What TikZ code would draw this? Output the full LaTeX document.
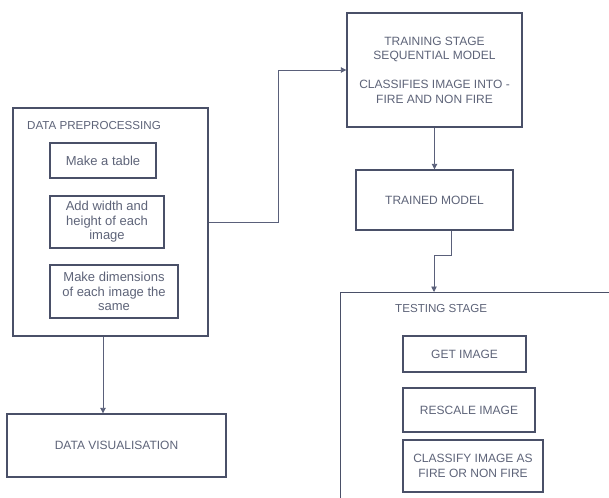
\documentclass[tikz,border=0pt]{standalone}
\usepackage{fontspec}
\setmainfont{Liberation Sans}
\usetikzlibrary{arrows.meta}
\definecolor{boxc}{HTML}{4A5068}
\definecolor{linec}{HTML}{5A607A}
\definecolor{txtc}{HTML}{5E6479}
\begin{document}
\begin{tikzpicture}[x=1pt,y=-1pt,
  box/.style={draw=boxc,line width=1.4pt,rectangle,inner sep=0pt,align=center,
    text=txtc,font=\fontsize{12}{14.5}\selectfont},
  lower/.style={font=\fontsize{13}{14.5}\selectfont},
  conn/.style={draw=linec,line width=0.9pt,-{Triangle[length=5.5pt,width=5.5pt]}},
  lbl/.style={text=txtc,font=\fontsize{11.6}{14.5}\selectfont,inner sep=0pt}]
\useasboundingbox (0,0) rectangle (609,497);
\clip (0,0) rectangle (609,497);
\fill[white] (0,0) rectangle (609,497);
% data preprocessing
\node[box,minimum width=195pt,minimum height=228pt] (pre) at (110.5,222) {};
\node[lbl,anchor=west] (pretitle) at (27,126) {DATA PREPROCESSING};
\node[box,lower,minimum width=106pt,minimum height=35pt] (table) at (103,160.5) {Make a table};
\node[box,lower,minimum width=114pt,minimum height=52pt] (addw) at (107,222) {Add width and\\height of each\\image};
\node[box,lower,minimum width=128pt,minimum height=53pt] (dims) at (114,291.5) {Make dimensions\\of each image the\\same};
\node[box,minimum width=219pt,minimum height=63pt] (vis) at (116.5,445.5) {DATA VISUALISATION};
% training
\node[box,minimum width=175pt,minimum height=114pt] (train) at (434.5,70) {TRAINING STAGE\\SEQUENTIAL MODEL\\[14.5pt]CLASSIFIES IMAGE INTO -\\FIRE AND NON FIRE};
\node[box,minimum width=157pt,minimum height=60pt] (trained) at (434.5,200) {TRAINED MODEL};
% testing
\node[box,anchor=north west,minimum width=300pt,minimum height=260pt] (test) at (340,292) {};
\node[lbl,anchor=west] (testtitle) at (395,309) {TESTING STAGE};
\node[box,minimum width=123pt,minimum height=36pt] (get) at (464.5,354) {GET IMAGE};
\node[box,minimum width=132pt,minimum height=44pt] (resc) at (469,410) {RESCALE IMAGE};
\node[box,minimum width=140pt,minimum height=52pt] (cls) at (473,466) {CLASSIFY IMAGE AS\\FIRE OR NON FIRE};
% connectors
\draw[conn] (pre.east) -- ++(70,0) |- (train.west);
\draw[conn] ([xshift=-7.5pt]pre.south) -- ([xshift=-7.5pt]pre.south |- vis.north);
\draw[conn] (train.south) -- (trained.north);
\draw[conn] ([xshift=17pt]trained.south) -- ++(0,25) -| ([xshift=94pt]test.north west);
\end{tikzpicture}
\end{document}
